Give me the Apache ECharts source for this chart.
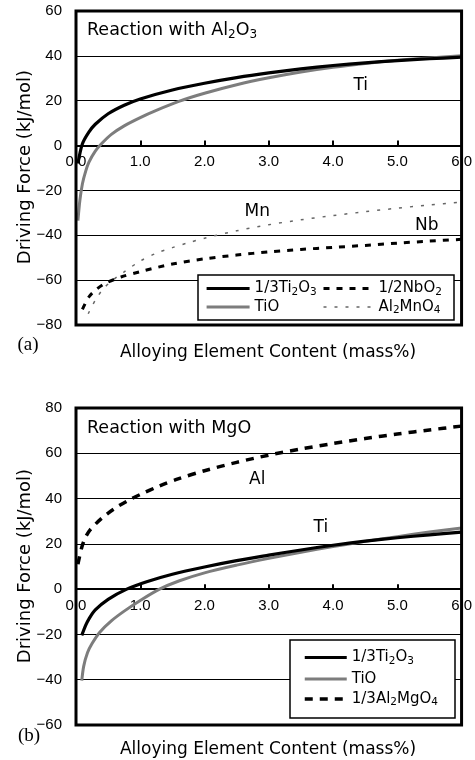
<!DOCTYPE html>
<html><head><meta charset="utf-8">
<script src="https://cdn.jsdelivr.net/npm/echarts@6/dist/echarts.min.js"></script>
<style>html,body{margin:0;padding:0;background:#fff}#c{width:475px;height:760px}</style>
</head><body><div id="c"></div>
<script>
// ---- data (a) Reaction with Al2O3 ----
const aTi2O3 = [[0.03,-8],[0.1,0.8],[0.2,6],[0.3,9.5],[0.5,14.2],[0.75,18],[1.0,20.8],[1.5,24.8],[2.0,27.8],[2.5,30.3],[3.0,32.4],[3.5,34.2],[4.0,35.7],[4.5,36.9],[5.0,37.9],[5.5,38.7],[6.0,39.4]];
const aTiO = [[0.03,-33.5],[0.06,-24.5],[0.1,-17],[0.15,-11.5],[0.2,-7.5],[0.3,-2.5],[0.4,0.9],[0.55,5],[0.75,8.8],[1.0,12.5],[1.25,15.7],[1.6,19.7],[2.0,23.3],[2.5,27.1],[3.0,30.2],[3.5,32.8],[4.0,34.9],[4.5,36.6],[5.0,38],[5.5,39.1],[6.0,40]];
const aNbO2 = [[0.1,-73],[0.2,-67.5],[0.3,-64.5],[0.45,-61.5],[0.7,-58.6],[1.0,-56.2],[1.5,-52.8],[2.0,-50.5],[2.5,-48.8],[3.0,-47.4],[3.5,-46.3],[4.0,-45.4],[4.5,-44.5],[5.0,-43.5],[5.5,-42.6],[6.0,-41.8]];
const aAl2MnO4 = [[0.19,-75],[0.3,-69],[0.42,-64],[0.55,-60.5],[0.75,-56.3],[1.0,-51.5],[1.25,-48],[1.5,-45.5],[1.75,-43.3],[2.0,-41.3],[2.5,-38],[3.0,-35.3],[3.5,-33.1],[4.0,-31.2],[4.5,-29.5],[5.0,-27.9],[5.5,-26.5],[6.0,-25.2]];
const aLabels = [['Ti',4.43,26.8],['Mn',2.82,-29.5],['Nb',5.46,-35.8]];
// ---- data (b) Reaction with MgO ----
const bTi2O3 = [[0.09,-20.4],[0.15,-16],[0.2,-13.2],[0.3,-9.2],[0.5,-4.5],[0.79,0],[1.1,3.3],[1.5,6.6],[2.0,9.8],[2.5,12.6],[3.0,15],[3.5,17.3],[4.0,19.4],[4.5,21.2],[5.0,22.7],[5.5,24],[6.0,25.2]];
const bTiO = [[0.09,-40.4],[0.12,-34],[0.18,-28],[0.25,-24],[0.37,-19],[0.55,-14],[0.75,-9.7],[1.0,-5],[1.3,0],[1.6,3.6],[2.0,7.2],[2.5,10.6],[3.0,13.6],[3.5,16.3],[4.0,18.8],[4.5,21.1],[5.0,23.2],[5.5,25.2],[6.0,27]];
const bAl2MgO4 = [[0.03,11],[0.09,18.5],[0.15,23],[0.22,26.2],[0.4,31.3],[0.6,35.6],[0.84,39.6],[1.0,41.8],[1.3,45.6],[1.6,48.8],[2.0,52.3],[2.5,56],[3.0,59.2],[3.5,61.9],[4.0,64.3],[4.5,66.5],[5.0,68.5],[5.5,70.3],[6.0,72]];
const bLabels = [['Al',2.82,48.4],['Ti',3.81,27]];
// ---- axes ----
const xTicks = {min:0, max:6, interval:1};
const yA = {min:-80, max:60, interval:20};
const yB = {min:-60, max:80, interval:20};

const SANS = 'DejaVu Sans';
const TICKF = 'Liberation Sans';
const richLeg = {
  n:{fontFamily:SANS,fontSize:15,lineHeight:18,color:'#000',fontWeight:'normal'},
  s:{fontFamily:SANS,fontSize:10.5,lineHeight:9,verticalAlign:'bottom',color:'#000',fontWeight:'normal'}
};
const richTitle = {
  n:{fontFamily:SANS,fontSize:17.5,lineHeight:22,color:'#000',fontWeight:'normal'},
  s:{fontFamily:SANS,fontSize:12,lineHeight:12,verticalAlign:'bottom',color:'#000',fontWeight:'normal'}
};
const legFmt = {
  '1/3Ti2O3':'{n|1/3Ti}{s|2}{n|O}{s|3}',
  'TiO':'{n|TiO}',
  '1/2NbO2':'{n|1/2NbO}{s|2}',
  'Al2MnO4':'{n|Al}{s|2}{n|MnO}{s|4}',
  '1/3Al2MgO4':'{n|1/3Al}{s|2}{n|MgO}{s|4}'
};
function mkMarks(arr){
  return {symbol:'circle',symbolSize:0,silent:true,
    label:{show:true,position:'inside',formatter:'{b}',color:'#000',fontFamily:SANS,fontSize:17},
    data:arr.map(a=>({name:a[0],coord:[a[1],a[2]]}))};
}
const GRIDS = [{left:76,top:11,width:387,height:314},{left:76,top:408,width:387,height:317}];
function xAx(gi,r){
  // place the axis on y = 0 using the y scale
  const off = -GRIDS[gi].height*(0-r.min)/(r.max-r.min);
  return {gridIndex:gi,type:'value',min:xTicks.min,max:xTicks.max,interval:xTicks.interval,position:'bottom',offset:off,
    axisLine:{onZero:false,lineStyle:{color:'#000',width:2}},
    axisTick:{show:true,inside:true,length:5,lineStyle:{color:'#000',width:2}},
    axisLabel:{margin:9,color:'#000',fontFamily:TICKF,fontSize:15,formatter:v=>v.toFixed(1),showMinLabel:true,showMaxLabel:true},
    splitLine:{show:false}};
}
function yAx(gi,r){
  return {gridIndex:gi,type:'value',min:r.min,max:r.max,interval:r.interval,
    axisLine:{show:false,onZero:false},axisTick:{show:false},
    axisLabel:{margin:14,color:'#000',fontFamily:TICKF,fontSize:15,formatter:v=>String(v).replace('-','\u2212')},
    splitLine:{show:true,lineStyle:{color:'#000',width:1}}};
}
const stTi2O3 = {color:'#000',lineStyle:{color:'#000',width:3.2,type:'solid'}};
const stTiO = {color:'#7d7d7d',lineStyle:{color:'#7d7d7d',width:3,type:'solid'}};
const stNb = {color:'#000',lineStyle:{color:'#000',width:3,type:[6,7]}};
const stMn = {color:'#666',lineStyle:{color:'#666',width:1.5,type:[3,8]}};
const stAl = {color:'#000',lineStyle:{color:'#000',width:3.5,type:[8,7]}};
const legStyles = {'1/3Ti2O3':stTi2O3,'TiO':stTiO,'1/2NbO2':stNb,'Al2MnO4':stMn,'1/3Al2MgO4':stAl};
function ser(name,data,gi,st,marks){
  const s = {name,type:'line',xAxisIndex:gi,yAxisIndex:gi,data,symbol:'none',showSymbol:false,smooth:0.3,
    itemStyle:{color:st.color},lineStyle:st.lineStyle,z:3};
  if(marks) s.markPoint = mkMarks(marks);
  return s;
}
function legData(names){
  return names.map(n=>({name:n,lineStyle:Object.assign({},legStyles[n].lineStyle)}));
}
const legBase = {orient:'vertical',itemHeight:12,z:20,selectedMode:false,padding:0,
  itemStyle:{opacity:0,borderWidth:0},formatter:n=>legFmt[n],textStyle:{rich:richLeg,fontWeight:'normal'}};
const chart = echarts.init(document.getElementById('c'),null,{renderer:'canvas'});
chart.setOption({
  animation:false,
  backgroundColor:'#fff',
  title:[
    {text:'{n|Reaction with Al}{s|2}{n|O}{s|3}',left:87,top:19,padding:0,textStyle:{rich:richTitle,fontWeight:'normal'}},
    {text:'{n|Reaction with MgO}',left:87,top:417,padding:0,textStyle:{rich:richTitle,fontWeight:'normal'}}
  ],
  grid:GRIDS.map(g=>Object.assign({show:true,borderColor:'#000',borderWidth:3,backgroundColor:'transparent',z:4},g)),
  xAxis:[xAx(0,yA),xAx(1,yB)],
  yAxis:[yAx(0,yA),yAx(1,yB)],
  legend:[
    Object.assign({},legBase,{left:205,top:281,itemWidth:43,itemGap:2,data:legData(['1/3Ti2O3','TiO'])}),
    Object.assign({},legBase,{left:322,top:281,itemWidth:50,itemGap:2,data:legData(['1/2NbO2','Al2MnO4'])}),
    Object.assign({},legBase,{left:303,top:650,itemWidth:42,itemGap:5,data:legData(['1/3Ti2O3','TiO','1/3Al2MgO4'])})
  ],
  graphic:[
    {type:'rect',z:15,shape:{x:198,y:275,width:256,height:45},style:{fill:'#fff',stroke:'#000',lineWidth:1.5}},
    {type:'rect',z:15,shape:{x:290,y:640,width:165,height:78},style:{fill:'#fff',stroke:'#000',lineWidth:1.5}},
    {type:'text',x:268,y:353,style:{text:'Alloying Element Content (mass%)',fontFamily:SANS,fontSize:17,fill:'#000',textAlign:'center',textVerticalAlign:'middle'}},
    {type:'text',x:268,y:750,style:{text:'Alloying Element Content (mass%)',fontFamily:SANS,fontSize:17,fill:'#000',textAlign:'center',textVerticalAlign:'middle'}},
    {type:'text',x:25,y:167,rotation:Math.PI/2,style:{text:'Driving Force (kJ/mol)',fontFamily:SANS,fontSize:18,fill:'#000',textAlign:'center',textVerticalAlign:'middle'}},
    {type:'text',x:25,y:566,rotation:Math.PI/2,style:{text:'Driving Force (kJ/mol)',fontFamily:SANS,fontSize:18,fill:'#000',textAlign:'center',textVerticalAlign:'middle'}},
    {type:'text',x:28,y:345,style:{text:'(a)',fontFamily:'Liberation Serif',fontSize:19,fill:'#000',textAlign:'center',textVerticalAlign:'middle'}},
    {type:'text',x:29,y:736,style:{text:'(b)',fontFamily:'Liberation Serif',fontSize:19,fill:'#000',textAlign:'center',textVerticalAlign:'middle'}}
  ],
  series:[
    ser('TiO',aTiO,0,stTiO),
    ser('1/3Ti2O3',aTi2O3,0,stTi2O3,aLabels),
    ser('1/2NbO2',aNbO2,0,stNb),
    ser('Al2MnO4',aAl2MnO4,0,stMn),
    ser('TiO',bTiO,1,stTiO),
    ser('1/3Ti2O3',bTi2O3,1,stTi2O3,bLabels),
    ser('1/3Al2MgO4',bAl2MgO4,1,stAl)
  ]
});
</script>
</body></html>
